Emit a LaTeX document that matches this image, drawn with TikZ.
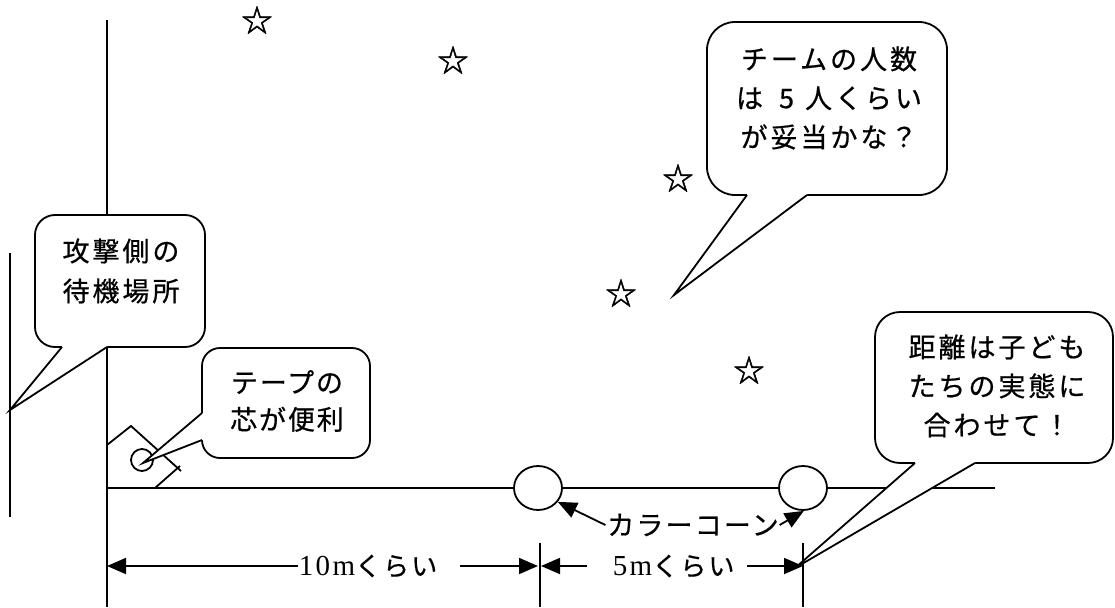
\documentclass[tikz,border=0pt]{standalone}
\usepackage{fontspec}
\newfontfamily\jp[LetterSpace=11,FakeBold=0.6]{Noto Sans CJK JP}
\newfontfamily\jpb[LetterSpace=7,FakeBold=0.6]{Noto Sans CJK JP}
\newfontfamily\jpk[LetterSpace=8,FakeBold=0.6]{Noto Sans CJK JP}
\newfontfamily\jpn[FakeBold=1.5]{Noto Sans CJK JP}
\newfontfamily\cent[LetterSpace=8]{Liberation Serif}
\usetikzlibrary{arrows.meta,shapes.geometric,calc}
\begin{document}
\begin{tikzpicture}[x=1pt,y=-1pt,line width=1.8pt,
  bub/.style={draw,fill=white,rounded corners=#1,inner sep=0pt},
  btext/.style={align=center,inner sep=0pt,font=\jp\fontsize{27}{40}\selectfont},
  arr/.style={-{Triangle[length=19pt,width=16pt]}},
  cone/.style={draw,fill=white,ellipse,minimum width=48pt,minimum height=44pt,inner sep=0pt},
  star/.style={inner sep=0pt,font=\jpn\fontsize{31}{31}\selectfont},
  dim/.style={inner sep=0pt,anchor=west}]
\useasboundingbox (0,0) rectangle (1115,607);
% field lines
\draw (107,20) -- (107,607);
\draw (10,253) -- (10,517);
\draw (107,488) -- (995,488);
\draw (540,543) -- (540,607);
\draw (803,543) -- (803,607);
% tape core
\draw (107,445) -- (131,426) -- (181,471);
\draw (155,488) -- (180,466);
\draw (142,460) circle[radius=11];
% callout 1
\node[bub=20pt,minimum width=170pt,minimum height=132pt] (b1) at (120,281) {};
\fill[white] (62,347) -- (10,410) -- (107,347) -- (107,344) -- (62,344) -- cycle;
\draw (62,347) -- (10,410) -- (107,347);
\node[btext] (t1) at (121,271) {攻撃側の\\待機場所};
% callout 2
\node[bub=18pt,minimum width=168pt,minimum height=110pt] (b2) at (286,403) {};
\fill[white] (202,413) -- (143,463) -- (202,440) -- (205,440) -- (205,413) -- cycle;
\draw (202,413) -- (143,463) -- (202,440);
\node[btext,font=\jpb\fontsize{27}{37}\selectfont] (t2) at (287,401) {テープの\\芯が便利};
% callout 3
\node[bub=28pt,minimum width=240pt,minimum height=173pt] (b3) at (827,108.5) {};
\fill[white] (747,195) -- (674,295) -- (807,195) -- (807,192) -- (747,192) -- cycle;
\draw (747,195) -- (674,295) -- (807,195);
\node[btext,font=\jp\fontsize{27}{39}\selectfont] (t3) at (829,98) {チームの人数\\は \hspace{7pt}5 \hspace{2pt}人くらい\\が妥当かな？};
% callout 4
\node[bub=25pt,minimum width=238pt,minimum height=151pt] (b4) at (994,387.5) {};
\fill[white] (915,463) -- (795,568) -- (975,463) -- (975,460) -- (915,460) -- cycle;
\draw (915,463) -- (795,568) -- (975,463);
\node[btext,font=\jp\fontsize{27}{39}\selectfont] (t4) at (997,386) {距離は子ども\\たちの実態に\\合わせて！};
% cones
\node[cone] (cone1) at (538,488) {};
\node[cone] (cone2) at (803,488) {};
% stars
\node[star] (s1) at (257,20) {☆};
\node[star] (s2) at (453,60) {☆};
\node[star] (s3) at (678,178) {☆};
\node[star] (s4) at (621,293) {☆};
\node[star] (s5) at (749,370) {☆};
% color cone label
\node[inner sep=0pt,font=\jpk\fontsize{27}{27}\selectfont] (kc) at (693,525) {カラーコーン};
\draw[arr] ([xshift=-1pt]kc.west) -- (cone1.-35);
\draw[arr] (kc.east) -- (cone2.-88);
% dimensions
\coordinate (L1) at (107,566);
\coordinate (M1) at (538,566);
\coordinate (M2) at (541,566);
\coordinate (R2) at (803,566);
\node[dim] (d1) at (298,566) {{\cent\fontsize{29}{29}\selectfont 10m}{\jpk\fontsize{26}{26}\selectfont くらい}};
\node[dim] (d2) at (612,566) {{\cent\fontsize{29}{29}\selectfont 5m}{\jpk\fontsize{26}{26}\selectfont くらい}};
\draw[arr] (d1.west) -- (L1);
\draw[arr] ([xshift=22pt]d1.east) -- (M1);
\draw[arr] ([xshift=-25pt]d2.west) -- (M2);
\draw[arr] ([xshift=12pt]d2.east) -- (R2);
\end{tikzpicture}
\end{document}
